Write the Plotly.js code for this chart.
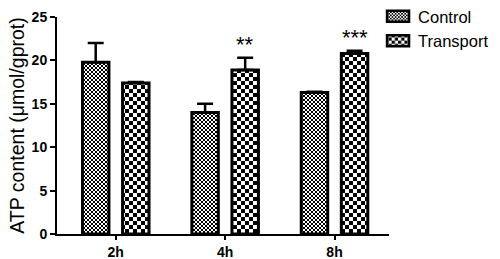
<!DOCTYPE html>
<html>
<head>
<meta charset="utf-8">
<script src="https://cdn.plot.ly/plotly-3.0.1.min.js"></script>
<style>html,body{margin:0;padding:0;background:#fff;}#chart{width:500px;height:259px;}</style>
</head>
<body>
<div id="chart"></div>
<script>
const categories = ['2h', '4h', '8h'];
const seriesNames = ['Control', 'Transport'];
const controlValues = [19.8, 14.0, 16.3];
const controlErrors = [2.2, 1.0, 0.1];
const transportValues = [17.4, 18.9, 20.8];
const transportErrors = [0.1, 1.4, 0.3];
const significance = ['', '**', '***'];
const yTicks = [0, 5, 10, 15, 20, 25];

const FONT = 'Arial, Liberation Sans, sans-serif';

function barTrace(name, values, errors, size) {
  return {
    type: 'bar', name: name, x: categories, y: values,
    marker: {
      color: '#ffffff',
      line: {color: '#000000', width: 3},
      pattern: {shape: '.', size: size, solidity: 0.5, fgcolor: '#000000', bgcolor: '#ffffff', fillmode: 'replace'}
    },
    error_y: {type: 'data', array: errors, arrayminus: categories.map(() => 0), symmetric: false,
      color: '#000000', thickness: 2.5, width: 8}
  };
}

const traces = [
  barTrace(seriesNames[0], controlValues, controlErrors, 4),
  barTrace(seriesNames[1], transportValues, transportErrors, 8)
];

const annotations = [];
categories.forEach((c, i) => {
  if (significance[i]) {
    annotations.push({
      x: c, y: transportValues[i] + transportErrors[i], xref: 'x', yref: 'y',
      text: significance[i], showarrow: false, xshift: 20, yshift: -1,
      yanchor: 'bottom', font: {family: FONT, size: 22, color: '#000'}
    });
  }
});

const layout = {
  width: 500, height: 259,
  margin: {l: 57, r: 111, t: 17, b: 25, pad: 0, autoexpand: false},
  paper_bgcolor: '#ffffff', plot_bgcolor: '#ffffff',
  font: {family: FONT, color: '#000'},
  barmode: 'group', bargap: 0.267, bargroupgap: 0.34,
  showlegend: true,
  legend: {x: 0.967, xanchor: 'left', y: 1.083, yanchor: 'top', font: {family: FONT, size: 16.5, color: '#000'},
    bgcolor: 'rgba(0,0,0,0)', borderwidth: 0, tracegroupgap: 0, itemwidth: 30},
  xaxis: {
    type: 'category', range: [-0.537, 2.498],
    showline: true, linecolor: '#000', linewidth: 2,
    ticks: 'outside', ticklen: 4, tickwidth: 2, tickcolor: '#000',
    tickfont: {family: FONT, size: 14, weight: 700, color: '#000'},
    showgrid: false, zeroline: false, fixedrange: true
  },
  yaxis: {
    range: [0, 25], tickvals: yTicks, ticktext: yTicks.map(String),
    showline: true, linecolor: '#000', linewidth: 2,
    ticks: 'outside', ticklen: 5, tickwidth: 2, tickcolor: '#000',
    tickfont: {family: FONT, size: 14, weight: 700, color: '#000'},
    showgrid: false, zeroline: false, fixedrange: true,
    title: {text: 'ATP content (μmol/gprot)', font: {family: FONT, size: 19.5, color: '#000'}, standoff: 2}
  },
  annotations: annotations
};

Plotly.newPlot('chart', traces, layout, {staticPlot: true, displayModeBar: false}).then(function (gd) {
  const NS = 'http://www.w3.org/2000/svg';
  // render the fill patterns as checkerboards
  gd.querySelectorAll('pattern').forEach(function (p) {
    const w = parseFloat(p.getAttribute('width'));
    const h = parseFloat(p.getAttribute('height'));
    if (!w || !h) return;
    while (p.firstChild) p.removeChild(p.firstChild);
    const bg = document.createElementNS(NS, 'rect');
    bg.setAttribute('x', 0); bg.setAttribute('y', 0);
    bg.setAttribute('width', w); bg.setAttribute('height', h);
    bg.setAttribute('fill', '#ffffff');
    p.appendChild(bg);
    [[0, 0], [w / 2, h / 2]].forEach(function (o) {
      const r = document.createElementNS(NS, 'rect');
      r.setAttribute('x', o[0]); r.setAttribute('y', o[1]);
      r.setAttribute('width', w / 2); r.setAttribute('height', h / 2);
      r.setAttribute('fill', '#000000');
      p.appendChild(r);
    });
  });
  // wider legend swatches like the original
  gd.querySelectorAll('.legend .legendpoints path').forEach(function (el) {
    el.setAttribute('d', 'M11,5.5H-11V-5.5H11Z');
    el.style.strokeWidth = '2.5px';
  });
});
</script>
</body>
</html>
